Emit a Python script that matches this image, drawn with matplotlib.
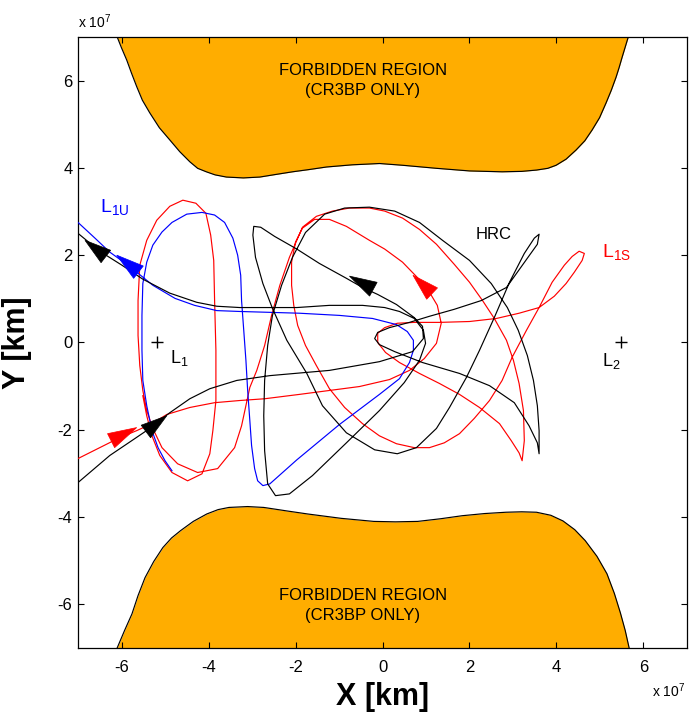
import matplotlib
matplotlib.use("Agg")
import matplotlib.pyplot as plt
import numpy as np
from matplotlib.patches import Polygon
from matplotlib.ticker import FixedLocator, FuncFormatter

plt.rcParams["font.family"] = ["Liberation Sans", "DejaVu Sans"]
plt.rcParams["mathtext.fontset"] = "custom"
plt.rcParams["mathtext.rm"] = "Liberation Sans"
plt.rcParams["mathtext.it"] = "Liberation Sans:italic"
plt.rcParams["mathtext.bf"] = "Liberation Sans:bold"

KM = 1e7  # all coordinates below are in units of 1e7 km

# Zero-velocity curve bounding the forbidden region (upper lobe)
upper_x = [-6.10, -6.00, -5.88, -5.77, -5.65, -5.52, -5.35, -5.13, -4.89, -4.66,
           -4.43, -4.25, -4.05, -3.85, -3.59, -3.20, -2.82, -2.45, -2.07, -1.70,
           -1.29, -0.70, -0.07, 0.46, 1.24, 2.00, 2.75, 3.20, 3.54, 3.80,
           3.99, 4.22, 4.45, 4.65, 4.82, 4.99, 5.14, 5.26, 5.37, 5.44,
           5.51, 5.58, 5.65]
upper_y = [7.00, 6.75, 6.47, 6.17, 5.86, 5.55, 5.26, 4.92, 4.64, 4.37,
           4.14, 3.99, 3.91, 3.84, 3.79, 3.77, 3.79, 3.85, 3.91, 3.96,
           4.02, 4.07, 4.10, 4.06, 3.99, 3.93, 3.91, 3.92, 3.95, 3.99,
           4.06, 4.20, 4.41, 4.62, 4.87, 5.15, 5.49, 5.78, 6.08, 6.30,
           6.54, 6.77, 7.00]

# Zero-velocity curve bounding the forbidden region (lower lobe)
lower_x = [-6.10, -5.93, -5.76, -5.62, -5.46, -5.26, -5.05, -4.85, -4.64, -4.35,
           -4.04, -3.78, -3.53, -3.10, -2.73, -2.20, -1.72, -0.95, -0.20, 0.30,
           0.81, 1.33, 1.83, 2.35, 2.84, 3.20, 3.54, 3.87, 4.15, 4.42,
           4.66, 4.93, 5.16, 5.33, 5.47, 5.58, 5.67]
lower_y = [-7.00, -6.60, -6.22, -5.80, -5.39, -5.02, -4.70, -4.48, -4.31, -4.10,
           -3.93, -3.83, -3.78, -3.76, -3.78, -3.86, -3.93, -4.03, -4.10, -4.11,
           -4.10, -4.04, -3.97, -3.92, -3.89, -3.88, -3.89, -3.96, -4.09, -4.29,
           -4.54, -4.90, -5.30, -5.75, -6.20, -6.60, -7.00]

# Unstable manifold of the L1 orbit
l1u_x = [-4.84, -5.00, -5.16, -5.30, -5.42, -5.51, -5.53, -5.53, -5.51, -5.42,
         -5.28, -5.07, -4.84, -4.50, -4.15, -3.86, -3.63, -3.44, -3.33, -3.26,
         -3.24, -3.19, -3.14, -3.10, -3.05, -3.01, -2.94, -2.87, -2.75, -2.59,
         -1.97, -0.99, -0.07, 0.39, 0.62, 0.71, 0.71, 0.57, 0.32, -0.23,
         -0.99, -1.91, -2.59, -3.28, -3.81, -4.32, -4.77, -5.28, -5.65, -5.85,
         -6.27, -6.61, -7.00]
l1u_y = [-2.94, -2.71, -2.41, -2.02, -1.45, -0.87, -0.18, 0.62, 1.35, 1.84,
         2.23, 2.53, 2.75, 2.94, 2.98, 2.92, 2.75, 2.39, 2.00, 1.54,
         0.96, 0.28, -0.41, -1.10, -1.79, -2.36, -2.89, -3.17, -3.28, -3.24,
         -2.69, -1.88, -1.19, -0.83, -0.46, -0.18, 0.05, 0.25, 0.41, 0.55,
         0.62, 0.67, 0.69, 0.71, 0.73, 0.85, 1.01, 1.31, 1.61, 1.77,
         2.07, 2.39, 2.75]

# Stable manifold of the L1 orbit
l1s_x = [-7.00, -6.50, -6.04, -5.65, -5.30, -4.96, -4.43, -3.86, -3.28, -2.71,
         -1.91, -1.22, -0.53, 0.16, 0.62, 0.96, 1.24, 1.35, 1.26, 1.08,
         0.80, 0.46, 0.05, -0.30, -0.83, -1.22, -1.56, -1.84, -2.00, -2.09,
         -2.09, -2.04, -1.95, -1.77, -1.52, -1.22, -0.87, -0.46, -0.07, 0.32,
         0.73, 1.08, 1.42, 1.77, 2.11, 2.46, 2.75, 2.98, 3.31, 3.60,
         3.90, 4.18, 4.36, 4.52, 4.64, 4.59, 4.41, 4.22, 3.95, 3.60,
         3.14, 2.62, 2.00, 1.31, 0.73, 0.34, 0.05, -0.11, -0.11, 0.07,
         0.39, 0.85, 1.31, 1.77, 2.23, 2.69, 2.96, 3.14, 3.21, 3.26,
         3.24, 3.14, 3.01, 2.85, 2.57, 2.30, 2.00, 1.65, 1.24, 0.85,
         0.46, 0.05, -0.30, -0.76, -1.15, -1.52, -1.84, -2.14, -2.36, -2.55,
         -2.71, -2.89, -3.05, -3.14, -3.24, -3.40, -3.79, -4.25, -4.71, -5.07,
         -5.28, -5.42, -5.51, -5.58, -5.62, -5.62, -5.58, -5.42, -5.19, -4.89,
         -4.59, -4.29, -4.06, -3.95, -3.88, -3.86, -3.83, -3.83, -3.90, -3.97,
         -4.15, -4.48, -4.84, -5.12, -5.30, -5.42, -5.51]
l1s_y = [-2.66, -2.41, -2.18, -2.02, -1.86, -1.65, -1.49, -1.38, -1.33, -1.29,
         -1.19, -1.10, -1.01, -0.85, -0.64, -0.37, -0.02, 0.44, 0.85, 1.15,
         1.49, 1.84, 2.14, 2.34, 2.66, 2.82, 2.82, 2.62, 2.30, 1.84,
         1.31, 0.85, 0.39, -0.07, -0.53, -1.06, -1.49, -1.86, -2.14, -2.32,
         -2.41, -2.41, -2.30, -2.09, -1.74, -1.33, -0.87, -0.34, 0.28, 0.80,
         1.38, 1.77, 1.97, 2.09, 2.04, 1.88, 1.61, 1.35, 1.06, 0.80,
         0.67, 0.55, 0.48, 0.46, 0.46, 0.44, 0.34, 0.21, 0.00, -0.23,
         -0.46, -0.71, -0.94, -1.19, -1.49, -1.86, -2.25, -2.53, -2.71, -2.25,
         -1.56, -0.94, -0.41, 0.05, 0.55, 0.96, 1.38, 1.79, 2.25, 2.59,
         2.85, 3.01, 3.08, 3.08, 3.01, 2.89, 2.64, 1.95, 1.31, 0.62,
         -0.07, -0.64, -1.03, -1.45, -1.91, -2.41, -2.89, -2.98, -2.78, -2.41,
         -1.97, -1.56, -1.10, -0.53, 0.16, 0.96, 1.77, 2.34, 2.80, 3.12,
         3.26, 3.19, 2.96, 2.46, 1.88, 0.96, -0.18, -1.33, -2.02, -2.55,
         -3.01, -3.17, -2.98, -2.59, -2.14, -1.68, -1.22]

# Heteroclinic-type trajectory (HRC)
hrc_x = [-7.00, -6.27, -5.69, -5.35, -4.89, -4.43, -3.97, -3.35, -2.59, -1.22,
         -0.07, 0.69, 0.94, 0.92, 0.73, 0.32, -0.11, -0.46, -0.83, -1.45,
         -1.97, -2.48, -2.80, -2.96, -2.98, -2.92, -2.75, -2.53, -2.20, -1.74,
         -1.38, -0.83, -0.18, 0.34, 0.78, 1.24, 1.54, 1.93, 2.23, 2.57,
         2.92, 3.26, 3.49, 3.60, 3.56, 3.33, 2.85, 2.27, 1.65, 1.08,
         0.62, 0.16, -0.11, -0.18, -0.07, 0.28, 0.92, 1.77, 2.46, 3.03,
         3.37, 3.56, 3.60, 3.60, 3.56, 3.47, 3.33, 3.12, 2.87, 2.50,
         2.00, 1.38, 0.85, 0.28, -0.30, -0.87, -1.33, -1.77, -2.07, -2.32,
         -2.53, -2.64, -2.71, -2.73, -2.71, -2.64, -2.46, -2.14, -1.61, -0.83,
         -0.07, 0.50, 0.85, 0.99, 0.94, 0.73, 0.39, 0.05, -0.46, -1.22,
         -1.97, -2.59, -3.28, -3.81, -4.27, -4.89, -5.51, -5.99, -6.50, -7.00]
hrc_y = [-3.21, -2.59, -2.20, -1.97, -1.61, -1.29, -1.06, -0.87, -0.76, -0.64,
         -0.44, -0.21, 0.09, 0.37, 0.57, 0.87, 1.10, 1.26, 1.47, 1.81,
         2.14, 2.43, 2.64, 2.66, 2.46, 1.95, 1.35, 0.78, 0.05, -0.71,
         -1.45, -2.07, -2.46, -2.55, -2.41, -1.97, -1.49, -0.80, -0.18, 0.57,
         1.38, 2.04, 2.39, 2.48, 2.25, 1.93, 1.26, 0.96, 0.76, 0.60,
         0.46, 0.34, 0.23, 0.09, -0.05, -0.21, -0.46, -0.71, -0.99, -1.38,
         -1.91, -2.30, -2.55, -2.02, -1.45, -0.87, -0.30, 0.28, 0.80, 1.35,
         1.88, 2.34, 2.75, 3.01, 3.10, 3.08, 2.94, 2.52, 1.95, 1.31,
         0.62, -0.07, -0.87, -1.68, -2.48, -3.24, -3.51, -3.47, -3.05, -2.30,
         -1.56, -0.92, -0.41, -0.02, 0.28, 0.55, 0.71, 0.80, 0.85, 0.85,
         0.80, 0.80, 0.80, 0.83, 0.92, 1.13, 1.45, 1.77, 2.09, 2.50]

# Libration points
lib_x = [-5.19, 5.48]
lib_y = [0.01, 0.01]

# Flow-direction arrowheads: (colour, tip x, tip y, tail x, tail y)
arrows = [
    ("blue", -6.11, 2.00, -5.61, 1.61),
    ("black", -6.84, 2.34, -6.36, 1.97),
    ("red", -5.65, -1.95, -6.24, -2.25),
    ("black", -4.96, -1.68, -5.44, -2.04),
    ("black", -0.76, 1.52, -0.21, 1.22),
    ("red", 0.70, 1.54, 1.14, 1.12),
]

ORANGE = "#FFAD00"
LW = 0.85

fig = plt.figure(figsize=(6.91, 7.19), dpi=100)
ax = fig.add_axes([0.1129, 0.0988, 0.8813, 0.8498])

def km(v):
    return np.asarray(v) * KM

# forbidden regions
ax.fill_between(km(upper_x), km(upper_y), 7 * KM, color=ORANGE, lw=0, zorder=1)
ax.plot(km(upper_x), km(upper_y), color="black", lw=LW, zorder=2)
ax.fill_between(km(lower_x), km(lower_y), -7 * KM, color=ORANGE, lw=0, zorder=1)
ax.plot(km(lower_x), km(lower_y), color="black", lw=LW, zorder=2)

for yc in (6.01, -6.03):
    ax.text(-0.45 * KM, yc * KM, "FORBIDDEN REGION\n(CR3BP ONLY)", ha="center",
            va="center", fontsize=12, linespacing=1.4, zorder=3)

# trajectories
ax.plot(km(l1s_x), km(l1s_y), color="red", lw=LW, zorder=4)
ax.plot(km(l1u_x), km(l1u_y), color="blue", lw=LW, zorder=5)
ax.plot(km(hrc_x), km(hrc_y), color="black", lw=LW, zorder=6)

# arrowheads
half_w = 0.18
for col, tx, ty, bx, by in arrows:
    d = np.array([tx - bx, ty - by])
    n = np.array([-d[1], d[0]]) / np.hypot(*d) * half_w
    verts = np.array([[tx, ty], [bx + n[0], by + n[1]], [bx - n[0], by - n[1]]]) * KM
    ax.add_patch(Polygon(verts, closed=True, facecolor=col, edgecolor=col,
                         lw=0.5, zorder=7))

# libration points
ax.plot(km(lib_x), km(lib_y), linestyle="none", marker="+", ms=8, mew=1.0,
        color="black", zorder=8)
ax.text(-4.89 * KM, -0.48 * KM, r"$\mathrm{L_1}$", fontsize=13, ha="left", va="baseline")
ax.text(5.05 * KM, -0.53 * KM, r"$\mathrm{L_2}$", fontsize=13, ha="left", va="baseline")

# curve labels
ax.text(-6.50 * KM, 2.98 * KM, r"$\mathrm{L_{1U}}$", color="blue", fontsize=14,
        ha="left", va="baseline")
ax.text(5.05 * KM, 1.95 * KM, r"$\mathrm{L_{1S}}$", color="red", fontsize=14,
        ha="left", va="baseline")
ax.text(2.55 * KM, 2.48 * KM, "HRC", color="black", fontsize=12, ha="center", va="center")

# axes styling
ax.set_xlim(-7 * KM, 7 * KM)
ax.set_ylim(-7 * KM, 7 * KM)
ticks = km([-6, -4, -2, 0, 2, 4, 6])
ax.xaxis.set_major_locator(FixedLocator(ticks))
ax.yaxis.set_major_locator(FixedLocator(ticks))
fmt = FuncFormatter(lambda v, p: "%d" % round(v / KM))
ax.xaxis.set_major_formatter(fmt)
ax.yaxis.set_major_formatter(fmt)
ax.tick_params(direction="in", length=4, width=0.8, labelsize=12, top=True,
               right=True)
ax.tick_params(axis="x", pad=9)
ax.tick_params(axis="y", pad=4)
for s in ax.spines.values():
    s.set_linewidth(0.9)

ax.set_xlabel("X [km]", fontsize=22, fontweight="bold")
ax.set_ylabel("Y [km]", fontsize=22, fontweight="bold")
ax.xaxis.set_label_coords(0.5, -0.055)
ax.yaxis.set_label_coords(-0.075, 0.5)

ax.text(0.0, 1.015, r"x 10$^{7}$", transform=ax.transAxes, fontsize=10,
        ha="left", va="baseline")
ax.text(0.942, -0.080, r"x 10$^{7}$", transform=ax.transAxes, fontsize=10,
        ha="left", va="baseline")

fig.savefig("out.png", dpi=100)
